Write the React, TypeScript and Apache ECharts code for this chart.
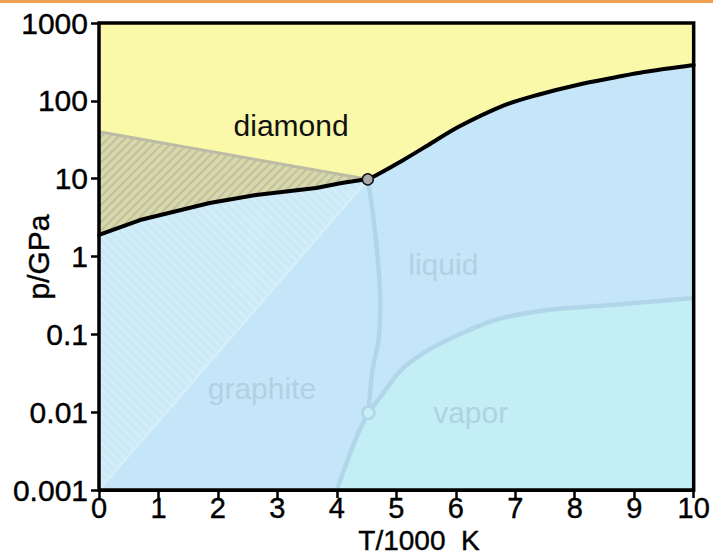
import React, { useEffect, useRef } from "react";
import * as echarts from "echarts";

// Axis ticks
const xTickValues = [0, 1, 2, 3, 4, 5, 6, 7, 8, 9, 10];
const yTickLabels = ["0.001", "0.01", "0.1", "1", "10", "100", "1000"];

// Phase boundaries (T in 1000 K, p in GPa)
const T_graphiteDiamond = [0, 0.69, 1.86, 2.64, 3.65, 4.08, 4.41, 4.52];
const P_graphiteDiamond = [1.89, 2.94, 4.87, 6.17, 7.59, 8.8, 9.6, 9.8];

const T_diamondLiquid = [4.52, 4.7, 5.12, 5.54, 6.04, 6.82, 7.37, 8.04, 8.71, 9.16, 10];
const P_diamondLiquid = [9.8, 11.5, 17.4, 27.1, 46.1, 88, 119, 160, 202, 234, 288];

const T_graphiteLiquid = [4.52, 4.62, 4.69, 4.73, 4.7, 4.6, 4.53];
const P_graphiteLiquid = [9.8, 2.94, 0.9, 0.276, 0.0845, 0.0348, 0.0098];

const T_graphiteVapor = [4.53, 4.36, 4.2, 4.0];
const P_graphiteVapor = [0.0098, 0.0054, 0.00265, 0.001];

const T_liquidVapor = [4.53, 4.78, 5.08, 5.54, 6.04, 6.66, 7.54, 8.6, 10];
const P_liquidVapor = [0.0098, 0.0176, 0.0348, 0.063, 0.098, 0.153, 0.205, 0.238, 0.293];

// metastable region limits
const T_metaDiamondTop = [0, 4.52];
const P_metaDiamondTop = [40, 9.8];
const T_metaGraphite = [4.52, 0];
const P_metaGraphite = [9.8, 0.001];

const triplePoint = [4.52, 9.8];
const vaporTriple = [4.53, 0.0098];

const regionLabels = ["diamond", "liquid", "graphite", "vapor"];
const labelT = [3.23, 5.79, 2.74, 6.25];
const labelP = [48.9, 0.78, 0.0204, 0.01];

const FONT = '"Liberation Sans", Arial, Helvetica, sans-serif';

function hatch(poly: number[][], spacing: number, dir: number, color: string, width: number) {
  // dir = 1 -> "/" lines (x + y = c), dir = -1 -> "\" lines (x - y = c)
  const vals = poly.map((p) => p[0] + dir * p[1]);
  const lo = Math.min(...vals);
  const hi = Math.max(...vals);
  const out: any[] = [];
  for (let c = Math.ceil(lo / spacing) * spacing; c <= hi; c += spacing) {
    const hits: number[][] = [];
    for (let i = 0; i < poly.length; i++) {
      const a = poly[i];
      const b = poly[(i + 1) % poly.length];
      const fa = a[0] + dir * a[1] - c;
      const fb = b[0] + dir * b[1] - c;
      if ((fa < 0 && fb >= 0) || (fa >= 0 && fb < 0)) {
        const t = fa / (fa - fb);
        hits.push([a[0] + t * (b[0] - a[0]), a[1] + t * (b[1] - a[1])]);
      }
    }
    hits.sort((p, q) => p[0] - q[0]);
    for (let k = 0; k + 1 < hits.length; k += 2) {
      out.push({
        type: "line",
        shape: { x1: hits[k][0], y1: hits[k][1], x2: hits[k + 1][0], y2: hits[k + 1][1] },
        style: { stroke: color, lineWidth: width },
        silent: true,
      });
    }
  }
  return out;
}

export default function App() {
  const ref = useRef<HTMLDivElement>(null);
  useEffect(() => {
    const chart = echarts.init(ref.current!, null, { renderer: "svg" });

    const renderItem = (_params: any, api: any) => {
      const c = (t: number, p: number) => api.coord([t, p]);
      const pts = (T: number[], P: number[]) => T.map((t, i) => c(t, P[i]));
      const rev = (a: number[][]) => a.slice().reverse();

      const gd = pts(T_graphiteDiamond, P_graphiteDiamond);
      const dl = pts(T_diamondLiquid, P_diamondLiquid);
      const gl = pts(T_graphiteLiquid, P_graphiteLiquid);
      const gv = pts(T_graphiteVapor, P_graphiteVapor);
      const lv = pts(T_liquidVapor, P_liquidVapor);
      const mdTop = pts(T_metaDiamondTop, P_metaDiamondTop);
      const mg = pts(T_metaGraphite, P_metaGraphite);

      const plotRect = [c(0, 0.001), c(0, 1000), c(10, 1000), c(10, 0.001)];
      const blueRegion = [c(0, 0.001), ...gd, ...dl.slice(1), c(10, 0.001)];
      const vaporRegion = [...rev(gv), ...lv.slice(1), c(10, 0.001)];
      const upperHatch = [...mdTop, ...rev(gd).slice(1)];
      const lowerHatch = [...gd, ...mg.slice(1)];

      const blueLine = { stroke: "#b1d6ea", lineWidth: 4.5, fill: null, lineJoin: "round" };
      const children: any[] = [];
      children.push({ type: "polygon", shape: { points: plotRect }, style: { fill: "#f9f9a9" } });
      children.push({ type: "polygon", shape: { points: blueRegion }, style: { fill: "#c5e6f8" } });
      children.push({ type: "polygon", shape: { points: vaporRegion }, style: { fill: "#c3eef5" } });
      children.push({ type: "polygon", shape: { points: upperHatch }, style: { fill: "#d8d9a8" } });
      children.push(...hatch(upperHatch, 8.5, 1, "#c0c0a2", 2));
      children.push({ type: "polyline", shape: { points: mdTop }, style: { stroke: "#bcbca6", lineWidth: 3, fill: null } });
      children.push({ type: "polygon", shape: { points: lowerHatch }, style: { fill: "#cbe9f7" } });
      children.push(...hatch(lowerHatch, 9, -1, "#d6eef9", 2));
      children.push({ type: "polyline", shape: { points: mg }, style: { stroke: "#d6eff9", lineWidth: 2.5, fill: null } });
      children.push({ type: "polyline", shape: { points: gl, smooth: 0.3 }, style: blueLine });
      children.push({ type: "polyline", shape: { points: gv, smooth: 0.3 }, style: blueLine });
      children.push({ type: "polyline", shape: { points: lv, smooth: 0.3 }, style: blueLine });
      children.push({ type: "polyline", shape: { points: gd }, style: { stroke: "#000", lineWidth: 4, fill: null, lineJoin: "round", lineCap: "round" } });
      children.push({ type: "polyline", shape: { points: dl, smooth: 0.3 }, style: { stroke: "#000", lineWidth: 4, fill: null, lineJoin: "round", lineCap: "round" } });
      const tp = c(triplePoint[0], triplePoint[1]);
      children.push({ type: "circle", shape: { cx: tp[0], cy: tp[1], r: 5.5 }, style: { fill: "#a8a8a8", stroke: "#111", lineWidth: 1.5 } });
      const vp = c(vaporTriple[0], vaporTriple[1]);
      children.push({ type: "circle", shape: { cx: vp[0], cy: vp[1], r: 6 }, style: { fill: "#c8eef6", stroke: "#b1d6ea", lineWidth: 2.5 } });

      regionLabels.forEach((txt, i) => {
        const p = c(labelT[i], labelP[i]);
        children.push({
          type: "text",
          x: p[0],
          y: p[1],
          style: {
            text: txt,
            fill: i === 0 ? "#111" : "#b0d1e4",
            font: `30px ${FONT}`,
            align: "center",
            verticalAlign: "middle",
            textAlign: "center",
            textVerticalAlign: "middle",
          },
        });
      });

      children.push({ type: "polygon", shape: { points: plotRect }, style: { fill: null, stroke: "#000", lineWidth: 3.5 } });
      return { type: "group", children };
    };

    const labelStyle = {
      color: "#000",
      fontFamily: FONT,
      textBorderColor: "#000",
      textBorderWidth: 0.4,
    };

    chart.setOption({
      animation: false,
      grid: { left: 99, right: 16, top: 23, bottom: 65, containLabel: false },
      xAxis: {
        type: "value",
        min: 0,
        max: 10,
        interval: 1,
        splitLine: { show: false },
        axisLine: { lineStyle: { color: "#000", width: 3 } },
        axisTick: { length: 8, lineStyle: { color: "#000", width: 2.5 } },
        axisLabel: {
          ...labelStyle,
          fontSize: 29,
          margin: 3,
          formatter: (v: number) => (xTickValues.includes(v) ? String(v) : ""),
        },
      },
      yAxis: {
        type: "log",
        logBase: 10,
        min: 0.001,
        max: 1000,
        splitLine: { show: false },
        axisLine: { lineStyle: { color: "#000", width: 3 } },
        axisTick: { length: 8, lineStyle: { color: "#000", width: 2.5 } },
        axisLabel: {
          ...labelStyle,
          fontSize: 30,
          margin: 11,
          formatter: (v: number) => {
            const idx = Math.round(Math.log10(v)) + 3;
            return yTickLabels[idx] ?? "";
          },
        },
      },
      series: [
        {
          type: "custom",
          renderItem,
          data: [[0, 1]],
          clip: false,
          silent: true,
        },
      ],
      graphic: [
        { type: "rect", shape: { x: 0, y: 0, width: 713, height: 3 }, style: { fill: "#f0a050" } },
        {
          type: "text",
          x: 419,
          y: 540,
          style: { text: "T/1000  K", font: `28px ${FONT}`, fill: "#000", stroke: "#000", lineWidth: 0.4, textAlign: "center", textVerticalAlign: "middle" },
        },
        {
          type: "text",
          x: 38,
          y: 257,
          rotation: Math.PI / 2,
          style: { text: "p/GPa", font: `30px ${FONT}`, fill: "#000", stroke: "#000", lineWidth: 0.4, textAlign: "center", textVerticalAlign: "middle" },
        },
      ],
    });
    return () => chart.dispose();
  }, []);
  return <div ref={ref} style={{ position: "absolute", left: 0, top: 0, width: 713, height: 555 }} />;
}
